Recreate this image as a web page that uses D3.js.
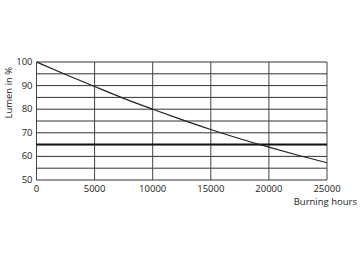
<!DOCTYPE html>
<html>
<head>
<meta charset="utf-8">
<script src="https://cdn.jsdelivr.net/npm/d3@7"></script>
<style>
  body { margin: 0; background: #fff; }
  text { font-family: "Open Sans", "DejaVu Sans", sans-serif; fill: #222; }
</style>
</head>
<body>
<svg id="chart"></svg>
<script>
// burning hours vs lumen maintenance
const hours = [0, 2500, 5000, 7500, 10000, 12500, 15000, 17500, 20000, 22500, 25000];
const lumen = [100, 94.7, 89.6, 84.6, 80, 75.6, 71.4, 67.5, 63.9, 60.5, 57.3];
const xTicks = [0, 5000, 10000, 15000, 20000, 25000];
const yTicks = [50, 60, 70, 80, 90, 100];
const yGrid = [55, 60, 65, 70, 75, 80, 85, 90, 95, 100];
const limit = 65;

const width = 360, height = 262;
const margin = { top: 62, right: 33, bottom: 82, left: 36.5 };

const svg = d3.select("#chart")
    .attr("width", width)
    .attr("height", height);

const x = d3.scaleLinear()
    .domain([0, 25000])
    .range([margin.left, width - margin.right]);

const y = d3.scaleLinear()
    .domain([50, 100])
    .range([height - margin.bottom + 0.5 - 0.5, margin.top]);

const grid = svg.append("g");

// horizontal grid lines
grid.selectAll("line.h")
    .data(yGrid)
    .join("line")
    .attr("class", "h")
    .attr("x1", x(0))
    .attr("x2", x(25000))
    .attr("y1", d => y(d))
    .attr("y2", d => y(d))
    .attr("stroke", "#333")
    .attr("stroke-width", 1);

// vertical grid lines
grid.selectAll("line.v")
    .data(xTicks)
    .join("line")
    .attr("class", "v")
    .attr("x1", d => x(d))
    .attr("x2", d => x(d))
    .attr("y1", y(50))
    .attr("y2", y(100))
    .attr("stroke", "#444")
    .attr("stroke-width", 1);

// bottom axis line
grid.append("line")
    .attr("x1", x(0)).attr("x2", x(25000))
    .attr("y1", y(50)).attr("y2", y(50))
    .attr("stroke", "#333");

// 65% threshold
svg.append("line")
    .attr("x1", x(0)).attr("x2", x(25000))
    .attr("y1", y(limit)).attr("y2", y(limit))
    .attr("stroke", "#111")
    .attr("stroke-width", 2);

// lumen curve
const line = d3.line()
    .x((d, i) => x(hours[i]))
    .y(d => y(d))
    .curve(d3.curveMonotoneX);

svg.append("path")
    .datum(lumen)
    .attr("d", line)
    .attr("fill", "none")
    .attr("stroke", "#222")
    .attr("stroke-width", 1.2);

// tick labels
svg.append("g").selectAll("text")
    .data(xTicks)
    .join("text")
    .attr("x", d => x(d))
    .attr("y", y(50) + 12)
    .attr("text-anchor", "middle")
    .style("font-size", "9.5px")
    .text(d => d);

svg.append("g").selectAll("text")
    .data(yTicks)
    .join("text")
    .attr("x", x(0) - 4)
    .attr("y", d => y(d) + 3)
    .attr("text-anchor", "end")
    .style("font-size", "9.5px")
    .text(d => d);

svg.append("text")
    .attr("transform", `translate(12, ${y(87)}) rotate(-90)`)
    .attr("text-anchor", "middle")
    .style("font-size", "9.5px")
    .text("Lumen in %");

svg.append("text")
    .attr("x", 357)
    .attr("y", y(50) + 25)
    .attr("text-anchor", "end")
    .style("font-size", "9.5px")
    .text("Burning hours");
</script>
</body>
</html>
